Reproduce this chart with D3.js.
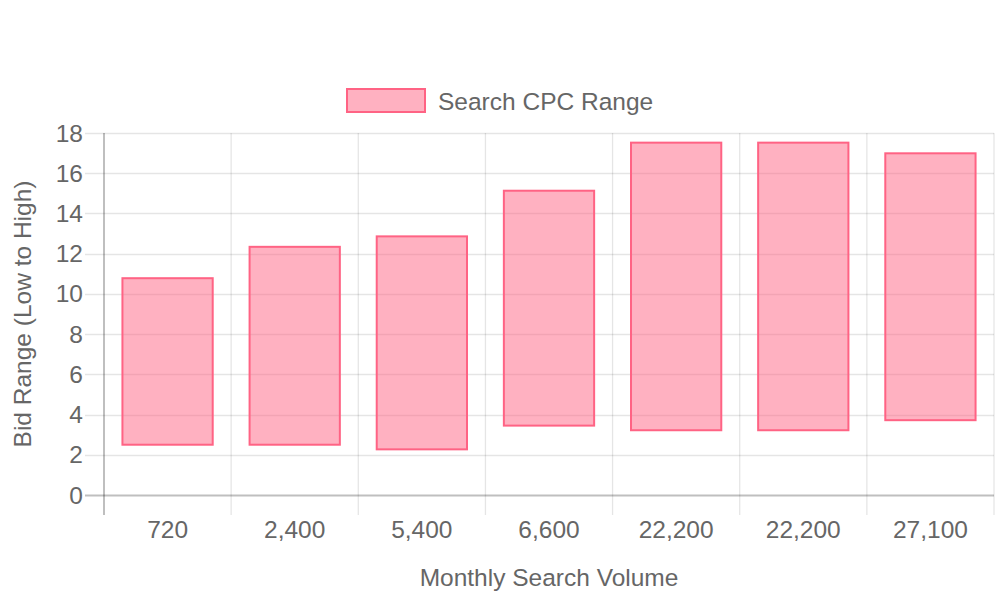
<!DOCTYPE html>
<html>
<head>
<meta charset="utf-8">
<script src="https://cdn.jsdelivr.net/npm/d3@7"></script>
<style>
  html, body { margin: 0; padding: 0; background: #fff; }
  svg { display: block; }
  text { font-family: "Liberation Sans", Arial, sans-serif; fill: #666; }
</style>
</head>
<body>
<svg id="chart" width="1000" height="600"></svg>
<script>
const categories = ["720", "2,400", "5,400", "6,600", "22,200", "22,200", "27,100"];
const lowBids = [2.5, 2.5, 2.27, 3.45, 3.22, 3.22, 3.72];
const highBids = [10.78, 12.34, 12.86, 15.13, 17.52, 17.52, 16.99];
const yTicks = [0, 2, 4, 6, 8, 10, 12, 14, 16, 18];
const seriesName = "Search CPC Range";
const xTitle = "Monthly Search Volume";
const yTitle = "Bid Range (Low to High)";

const svg = d3.select("#chart");
const m = { left: 104, right: 994, top: 133, bottom: 495 };
const fontSize = 24.5;

const x = d3.scaleBand().domain(d3.range(categories.length)).range([m.left, m.right]).paddingInner(0).paddingOuter(0);
const y = d3.scaleLinear().domain([0, 18]).range([m.bottom, m.top]);

const grid = "rgba(0,0,0,0.1)";
const axisCol = "rgba(0,0,0,0.25)";

// horizontal gridlines + y ticks
const yg = svg.append("g");
yTicks.forEach(t => {
  yg.append("line")
    .attr("x1", m.left - 19).attr("x2", m.right)
    .attr("y1", Math.round(y(t)) + 0.5).attr("y2", Math.round(y(t)) + 0.5)
    .attr("stroke", t === 0 ? axisCol : grid).attr("stroke-width", t === 0 ? 2 : 1.3);
  yg.append("text")
    .attr("x", m.left - 21).attr("y", y(t))
    .attr("text-anchor", "end").attr("dominant-baseline", "central")
    .attr("font-size", fontSize).text(t);
});

// vertical gridlines
const bounds = d3.range(categories.length + 1).map(i => i < categories.length ? x(i) : m.right);
bounds.forEach((b, i) => {
  svg.append("line")
    .attr("x1", b).attr("x2", b)
    .attr("y1", m.top).attr("y2", m.bottom + 20)
    .attr("stroke", i === 0 ? axisCol : grid).attr("stroke-width", i === 0 ? 2 : 1.3);
});

// x labels
categories.forEach((c, i) => {
  svg.append("text")
    .attr("x", x(i) + x.bandwidth() / 2).attr("y", 529)
    .attr("text-anchor", "middle").attr("dominant-baseline", "central")
    .attr("font-size", fontSize).text(c);
});

// bars
const bw = x.bandwidth() * 0.71;
svg.append("g").selectAll("rect")
  .data(categories.map((c, i) => ({ i, lo: lowBids[i], hi: highBids[i] })))
  .join("rect")
  .attr("x", d => x(d.i) + (x.bandwidth() - bw) / 2)
  .attr("width", bw)
  .attr("y", d => y(d.hi))
  .attr("height", d => y(d.lo) - y(d.hi))
  .attr("fill", "rgba(255,99,132,0.5)")
  .attr("stroke", "rgb(255,99,132)")
  .attr("stroke-width", 2);

// axis titles
svg.append("text")
  .attr("x", (m.left + m.right) / 2).attr("y", 577)
  .attr("text-anchor", "middle").attr("dominant-baseline", "central")
  .attr("font-size", fontSize).text(xTitle);
svg.append("text")
  .attr("transform", `translate(22,${(m.top + m.bottom) / 2}) rotate(-90)`)
  .attr("text-anchor", "middle").attr("dominant-baseline", "central")
  .attr("font-size", fontSize).text(yTitle);

// legend
const lg = svg.append("g");
lg.append("rect").attr("x", 347).attr("y", 89).attr("width", 78).attr("height", 23)
  .attr("fill", "rgba(255,99,132,0.5)").attr("stroke", "rgb(255,99,132)").attr("stroke-width", 2);
lg.append("text").attr("x", 438).attr("y", 101).attr("dominant-baseline", "central")
  .attr("font-size", fontSize).text(seriesName);
</script>
</body>
</html>
